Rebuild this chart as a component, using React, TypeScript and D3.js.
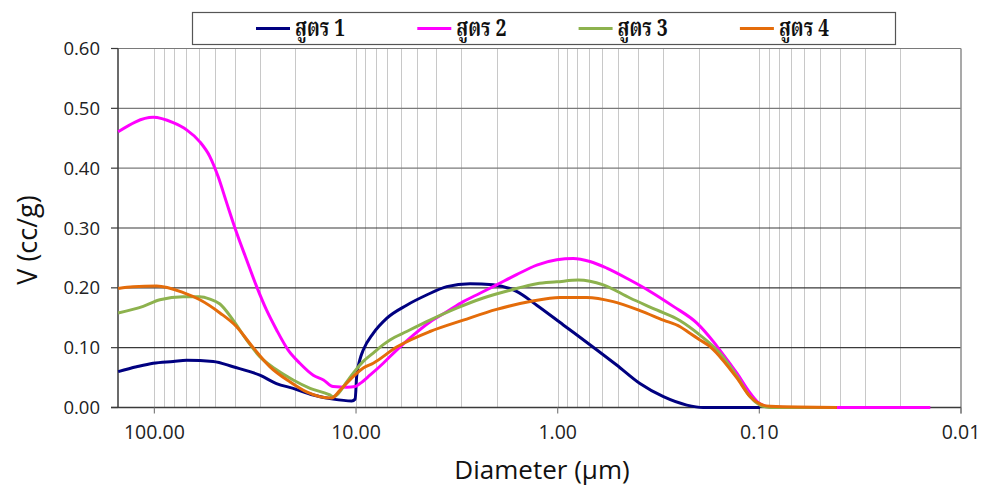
import { useEffect, useRef } from 'react';
import * as d3 from 'd3';

// Diameter (µm) / V (cc/g), one pair of arrays per series
const seriesNames = ['สูตร 1', 'สูตร 2', 'สูตร 3', 'สูตร 4'];
const seriesColors = ['#000080', '#ff00ff', '#8db24e', '#e46c0a'];

const d1 = [151.2, 122.6, 101.4, 80.7, 69.2, 51.1, 40.7, 30.0, 24.8, 20.5, 16.3, 13.0, 10.5, 10.1, 9.93, 9.57, 9.21, 8.22, 7.05, 5.61, 4.47, 3.55, 2.72, 2.09, 1.60, 1.27, 0.938, 0.692, 0.510, 0.391, 0.299, 0.229, 0.190, 0.0992];
const v1 = [0.060, 0.068, 0.074, 0.077, 0.079, 0.077, 0.068, 0.054, 0.040, 0.032, 0.021, 0.014, 0.011, 0.014, 0.052, 0.080, 0.096, 0.124, 0.149, 0.171, 0.188, 0.202, 0.207, 0.205, 0.194, 0.171, 0.138, 0.105, 0.071, 0.040, 0.018, 0.004, 0.0, 0.0];

const d2 = [151.2, 101.4, 80.7, 69.2, 59.5, 53.0, 48.3, 43.8, 39.1, 34.9, 31.1, 27.8, 24.8, 21.7, 19.0, 16.3, 14.5, 13.0, 11.1, 10.1, 9.57, 8.53, 7.33, 6.29, 5.20, 4.30, 3.55, 2.94, 2.43, 2.01, 1.60, 1.27, 1.01, 0.837, 0.692, 0.571, 0.438, 0.348, 0.267, 0.204, 0.169, 0.157, 0.129, 0.111, 0.0992, 0.0885, 0.06, 0.0142];
const v2 = [0.461, 0.485, 0.476, 0.464, 0.444, 0.419, 0.386, 0.342, 0.292, 0.247, 0.202, 0.163, 0.130, 0.096, 0.074, 0.054, 0.046, 0.035, 0.034, 0.035, 0.040, 0.054, 0.074, 0.096, 0.121, 0.143, 0.160, 0.177, 0.191, 0.205, 0.222, 0.238, 0.247, 0.249, 0.244, 0.233, 0.213, 0.194, 0.169, 0.141, 0.110, 0.096, 0.057, 0.024, 0.006, 0.001, 0.0, 0.0];

const d3s = [151.2, 113.6, 93.9, 71.9, 59.5, 53.0, 47.3, 40.7, 34.9, 30.0, 24.8, 20.5, 16.9, 13.5, 13.0, 11.1, 10.3, 9.21, 8.22, 7.33, 6.79, 5.61, 4.30, 3.17, 2.34, 1.72, 1.27, 1.01, 0.790, 0.594, 0.438, 0.323, 0.247, 0.197, 0.157, 0.129, 0.111, 0.0992, 0.0885, 0.0412];
const v3 = [0.158, 0.169, 0.180, 0.185, 0.185, 0.181, 0.173, 0.146, 0.113, 0.085, 0.063, 0.046, 0.032, 0.021, 0.018, 0.043, 0.058, 0.077, 0.091, 0.105, 0.113, 0.127, 0.146, 0.166, 0.183, 0.196, 0.207, 0.210, 0.213, 0.205, 0.183, 0.163, 0.145, 0.121, 0.091, 0.052, 0.018, 0.004, 0.0, 0.0];

const d4 = [151.2, 127.4, 97.5, 71.9, 59.5, 47.3, 39.1, 33.6, 26.7, 21.3, 17.6, 15.1, 13.2, 12.0, 10.3, 9.21, 8.22, 6.29, 4.30, 2.94, 2.01, 1.37, 0.974, 0.718, 0.530, 0.391, 0.299, 0.247, 0.221, 0.197, 0.176, 0.157, 0.129, 0.111, 0.0992, 0.0885, 0.0412];
const v4 = [0.199, 0.202, 0.203, 0.192, 0.180, 0.158, 0.135, 0.107, 0.068, 0.043, 0.026, 0.018, 0.016, 0.029, 0.052, 0.066, 0.074, 0.101, 0.127, 0.146, 0.164, 0.177, 0.184, 0.184, 0.177, 0.162, 0.146, 0.135, 0.124, 0.113, 0.102, 0.085, 0.049, 0.018, 0.006, 0.002, 0.0];

const diameters = [d1, d2, d3s, d4];
const volumes = [v1, v2, v3, v4];

const xTicks = [100, 10, 1, 0.1, 0.01];
const yTicks = [0, 0.1, 0.2, 0.3, 0.4, 0.5, 0.6];

function App() {
  const svgRef = useRef(null);

  useEffect(() => {
    document.body.style.margin = '0';
    const svg = d3.select(svgRef.current);
    svg.selectAll('*').remove();

    const left = 118, right = 961, top = 48.5, bottom = 407.5;
    const x = d3.scaleLog().domain([151.5, 0.01]).range([left, right]);
    const y = d3.scaleLinear().domain([0, 0.6]).range([bottom, top]);

    svg.append('rect').attr('width', 981).attr('height', 488).attr('fill', '#fff');

    // minor grid, every 1..9 of each decade
    const minor = [];
    for (let e = -2; e <= 2; e++) {
      for (let k = 1; k <= 9; k++) {
        const v = k * Math.pow(10, e);
        if (v < 151.5 && v > 0.01) minor.push(v);
      }
    }
    svg.append('g')
      .selectAll('line')
      .data(minor)
      .join('line')
      .attr('x1', d => Math.round(x(d)) + 0.5)
      .attr('x2', d => Math.round(x(d)) + 0.5)
      .attr('y1', top)
      .attr('y2', bottom)
      .attr('stroke', '#c8c8c8')
      .attr('stroke-width', 1);

    // horizontal grid
    svg.append('g')
      .selectAll('line')
      .data(yTicks.slice(1))
      .join('line')
      .attr('x1', left)
      .attr('x2', right)
      .attr('y1', d => y(d))
      .attr('y2', d => y(d))
      .attr('stroke', d => (d >= 0.4 ? '#7a7a7a' : '#3a3a3a'))
      .attr('stroke-width', 1.2);

    // right border
    svg.append('line')
      .attr('x1', right).attr('x2', right)
      .attr('y1', top).attr('y2', bottom + 6)
      .attr('stroke', '#8c8c8c').attr('stroke-width', 1.5);

    // axes
    svg.append('line')
      .attr('x1', left).attr('x2', left)
      .attr('y1', top).attr('y2', bottom)
      .attr('stroke', '#3a3a3a').attr('stroke-width', 1.5);
    svg.append('line')
      .attr('x1', left - 7).attr('x2', right)
      .attr('y1', bottom).attr('y2', bottom)
      .attr('stroke', '#3a3a3a').attr('stroke-width', 1.5);

    svg.append('g')
      .selectAll('line')
      .data(yTicks)
      .join('line')
      .attr('x1', left - 7).attr('x2', left)
      .attr('y1', d => y(d)).attr('y2', d => y(d))
      .attr('stroke', '#3a3a3a').attr('stroke-width', 1.2);

    svg.append('g')
      .selectAll('line')
      .data(xTicks)
      .join('line')
      .attr('x1', d => x(d)).attr('x2', d => x(d))
      .attr('y1', bottom).attr('y2', bottom + 6)
      .attr('stroke', '#808080').attr('stroke-width', 1.2);

    const tickFont = "'Open Sans', 'Noto Sans', sans-serif";
    svg.append('g')
      .selectAll('text')
      .data(yTicks)
      .join('text')
      .attr('x', 100)
      .attr('y', d => y(d))
      .attr('dy', '0.36em')
      .attr('text-anchor', 'end')
      .attr('font-family', tickFont)
      .attr('font-size', 18.5)
      .attr('fill', '#222')
      .text(d => d3.format('.2f')(d));

    svg.append('g')
      .selectAll('text')
      .data(xTicks)
      .join('text')
      .attr('x', d => x(d))
      .attr('y', 439)
      .attr('text-anchor', 'middle')
      .attr('font-family', tickFont)
      .attr('font-size', 19.5)
      .attr('fill', '#222')
      .text(d => d3.format('.2f')(d));

    // titles
    svg.append('text')
      .attr('x', 542)
      .attr('y', 479)
      .attr('text-anchor', 'middle')
      .attr('font-family', tickFont)
      .attr('font-size', 26)
      .attr('fill', '#111')
      .text('Diameter (µm)');

    svg.append('text')
      .attr('transform', 'translate(37, 240) rotate(-90)')
      .attr('text-anchor', 'middle')
      .attr('font-family', tickFont)
      .attr('font-size', 27)
      .attr('fill', '#111')
      .text('V (cc/g)');

    // series
    const line = d3.line()
      .x(d => x(d[0]))
      .y(d => y(d[1]))
      .curve(d3.curveMonotoneX);

    diameters.forEach((ds, i) => {
      const pts = ds.map((dd, j) => [dd, volumes[i][j]]);
      svg.append('path')
        .datum(pts)
        .attr('fill', 'none')
        .attr('stroke', seriesColors[i])
        .attr('stroke-width', 3)
        .attr('stroke-linejoin', 'round')
        .attr('d', line);
    });

    // legend
    const lg = svg.append('g');
    lg.append('rect')
      .attr('x', 192.5).attr('y', 12.5)
      .attr('width', 703).attr('height', 32)
      .attr('fill', '#fff')
      .attr('stroke', '#555')
      .attr('stroke-width', 1.2);

    seriesNames.forEach((name, i) => {
      const lx = 256 + i * 161.3;
      lg.append('line')
        .attr('x1', lx).attr('x2', lx + 34)
        .attr('y1', 28.5).attr('y2', 28.5)
        .attr('stroke', seriesColors[i])
        .attr('stroke-width', 3);
      lg.append('text')
        .attr('transform', `translate(${lx + 39}, 36) scale(0.8, 1)`)
        .attr('font-family', "'Noto Serif Thai', 'Noto Sans Thai', 'Tlwg Typo', 'Garuda', 'DejaVu Serif', serif")
        .attr('font-weight', 'bold')
        .attr('font-size', 24)
        .attr('fill', '#111')
        .text(name);
    });
  }, []);

  return (
    <svg
      ref={svgRef}
      width={981}
      height={488}
      style={{ position: 'absolute', left: 0, top: 0, display: 'block' }}
    />
  );
}

export default App;
